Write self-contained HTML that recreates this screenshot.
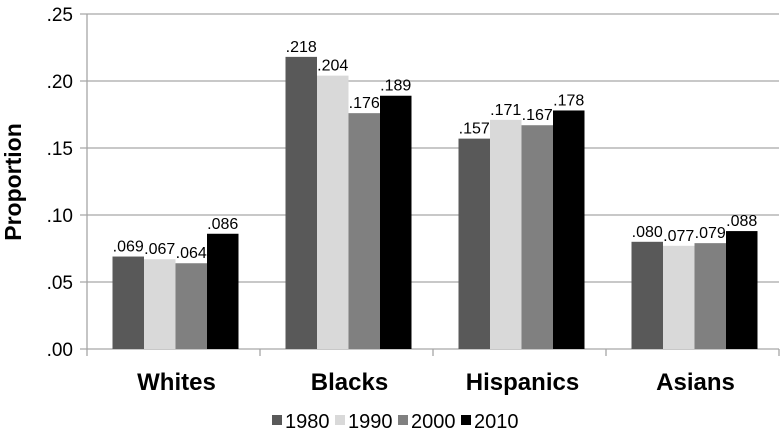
<!DOCTYPE html>
<html><head><meta charset="utf-8"><style>
html,body{margin:0;padding:0;background:#fff;}
svg{display:block;font-family:"Liberation Sans",Arial,sans-serif;}
</style></head><body>
<svg id="c" width="781" height="435"></svg>
<script>
const categories=["Whites","Blacks","Hispanics","Asians"];
const seriesNames=["1980","1990","2000","2010"];
const v1980=[0.069,0.218,0.157,0.080];
const v1990=[0.067,0.204,0.171,0.077];
const v2000=[0.064,0.176,0.167,0.079];
const v2010=[0.086,0.189,0.178,0.088];
const yTicks=[0,0.05,0.10,0.15,0.20,0.25];
const yTickLabels=[".00",".05",".10",".15",".20",".25"];
const series=[v1980,v1990,v2000,v2010];
const colors=["#595959","#d9d9d9","#808080","#000000"];
const NS="http://www.w3.org/2000/svg";
const svg=document.getElementById("c");
const x0=87,x1=779,yBase=349,yTop=14,yMax=0.25;
const gw=(x1-x0)/categories.length,bw=31.5;
function y(v){return yBase-(v/yMax)*(yBase-yTop);}
function xBar(ci,si){return x0+ci*gw+(gw-4*bw)/2+2+si*bw;}
function mk(t,a,txt){const e=document.createElementNS(NS,t);for(const k in a)e.setAttribute(k,a[k]);if(txt!==undefined)e.textContent=txt;svg.appendChild(e);return e;}
yTicks.forEach((t,i)=>{
  const g=mk("line",{x1:80,x2:x1,y1:y(t),y2:y(t),stroke:"#a6a6a6","stroke-width":1.3});
  
  
  const l=mk("text",{x:73,y:y(t)+7,"text-anchor":"end","font-size":19,fill:"#000"},yTickLabels[i]);
  
  
});
const ax=mk("line",{x1:x0,x2:x0,y1:yTop,y2:yBase,stroke:"#a6a6a6","stroke-width":1.3});


for(let i=0;i<=categories.length;i++){
  const t=mk("line",{x1:x0+i*gw,x2:x0+i*gw,y1:yBase,y2:yBase+7,stroke:"#a6a6a6","stroke-width":1.3});
  
  
}
categories.forEach((c,ci)=>{
  series.forEach((s,si)=>{
    const bx=xBar(ci,si);
    const r=mk("rect",{x:bx,y:y(s[ci]),width:bw,height:yBase-y(s[ci]),fill:colors[si]});
    
    
    const t=mk("text",{x:bx+bw/2,y:y(s[ci])-5,"text-anchor":"middle","font-size":16,fill:"#000"},s[ci].toFixed(3).replace(/^0/,""));
    
    
  });
  const cl=mk("text",{x:x0+ci*gw+gw/2+3,y:390,"text-anchor":"middle","font-size":24,"font-weight":"bold",fill:"#000"},c);
  
  
});
const yt=mk("text",{x:0,y:0,transform:"translate(21,182) rotate(-90)","text-anchor":"middle","font-size":23,"font-weight":"bold",fill:"#000"},"Proportion");


seriesNames.forEach((n,i)=>{
  const lx=272+i*63;
  const sq=mk("rect",{x:lx,y:415,width:10,height:10,fill:colors[i]});
  
  
  const lt=mk("text",{x:lx+13,y:428,"font-size":20,fill:"#000"},n);
  
  
});
</script>
</body></html>
